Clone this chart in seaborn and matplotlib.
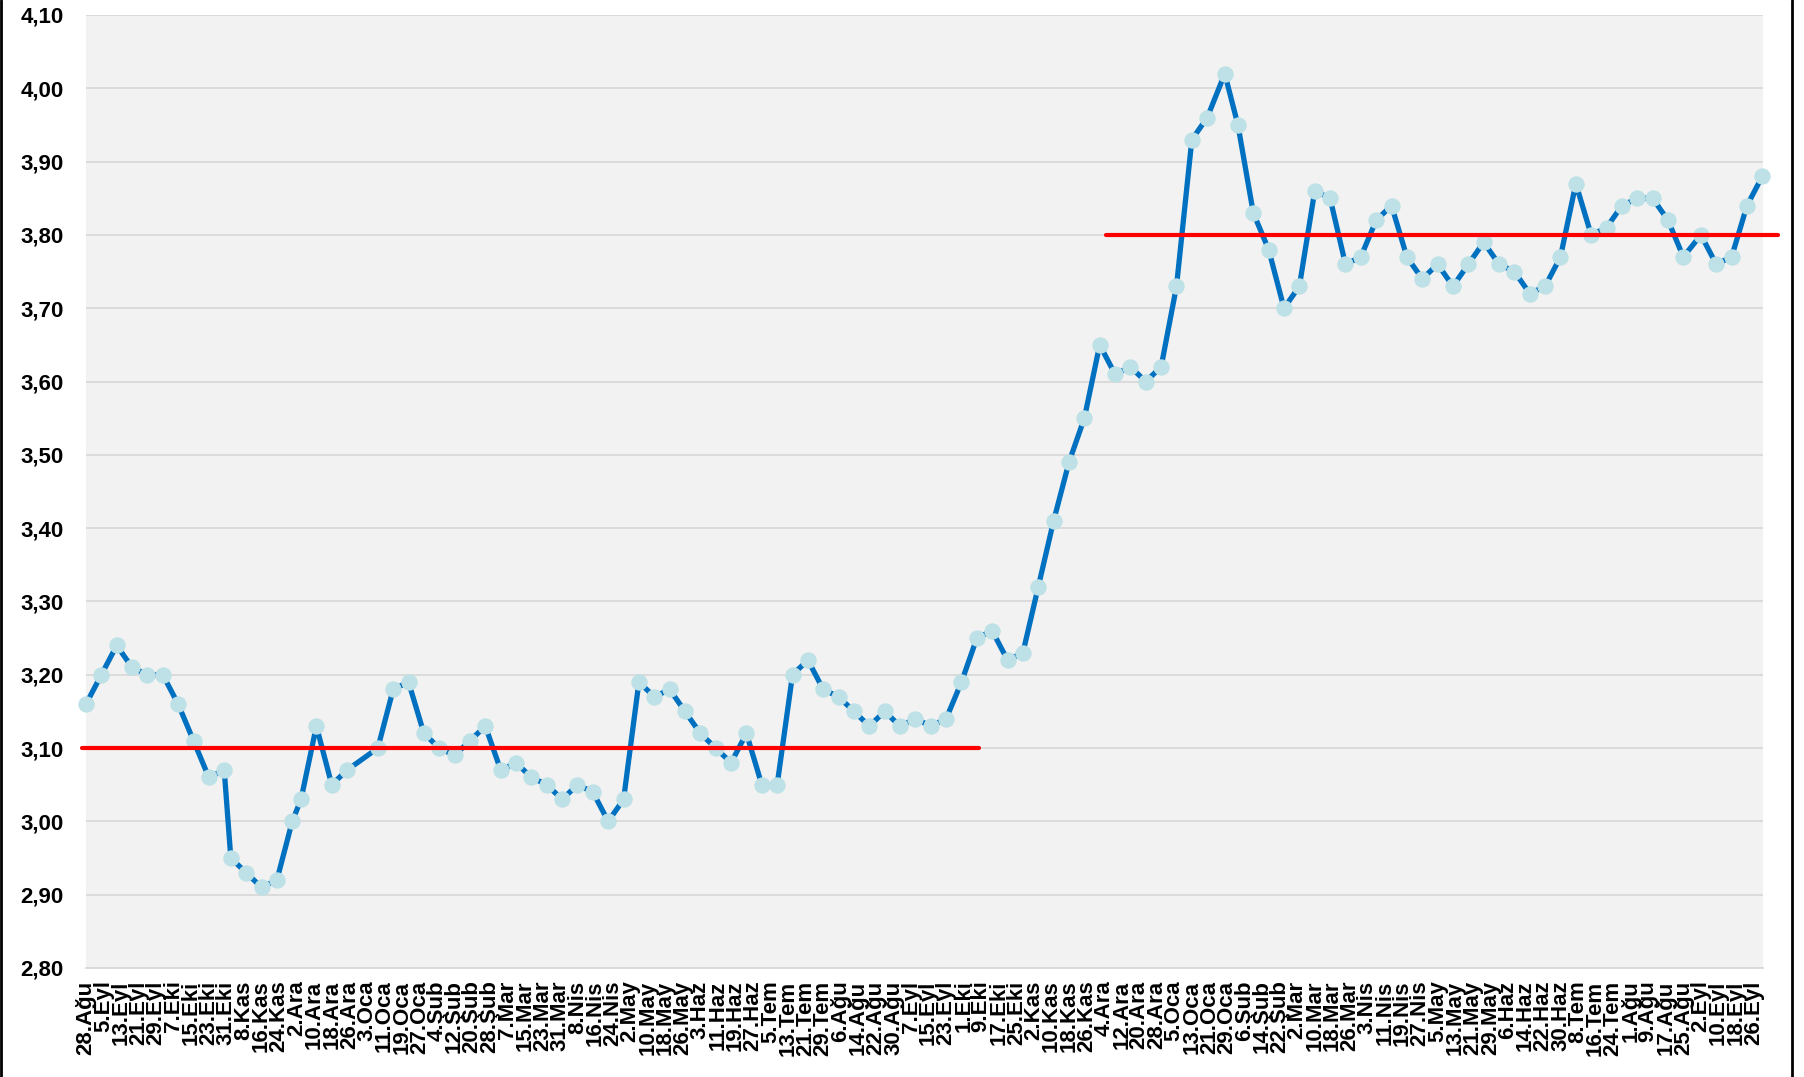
import numpy as np
import pandas as pd
import matplotlib
matplotlib.use("Agg")
import matplotlib.pyplot as plt
import matplotlib.ticker as mticker
from matplotlib.lines import Line2D
import seaborn as sns

# === 1. Data ===
start_date = pd.Timestamp("2015-08-28")

# days after start date for each observation
day_offsets = [
    0, 7, 14, 21, 28, 35, 42, 49, 56, 63, 66, 73, 80, 87, 94, 98, 105, 112, 119,
    133, 140, 147, 154, 161, 168, 175, 182, 189, 196, 203, 210, 217, 224, 231,
    238, 245, 252, 259, 266, 273, 280, 287, 294, 301, 308, 315, 322, 329, 336,
    343, 350, 357, 364, 371, 378, 385, 392, 399, 406, 413, 420, 427, 434, 441,
    448, 455, 462, 469, 476, 483, 490, 497, 504, 511, 519, 525, 532, 539, 546,
    553, 560, 567, 574, 581, 588, 595, 602, 609, 616, 623, 630, 637, 644, 651,
    658, 665, 672, 679, 686, 693, 700, 707, 714, 721, 728, 736, 743, 750, 757,
    764,
]

values = [
    3.16, 3.20, 3.24, 3.21, 3.20, 3.20, 3.16, 3.11, 3.06, 3.07, 2.95, 2.93, 2.91,
    2.92, 3.00, 3.03, 3.13, 3.05, 3.07, 3.10, 3.18, 3.19, 3.12, 3.10, 3.09, 3.11,
    3.13, 3.07, 3.08, 3.06, 3.05, 3.03, 3.05, 3.04, 3.00, 3.03, 3.19, 3.17, 3.18,
    3.15, 3.12, 3.10, 3.08, 3.12, 3.05, 3.05, 3.20, 3.22, 3.18, 3.17, 3.15, 3.13,
    3.15, 3.13, 3.14, 3.13, 3.14, 3.19, 3.25, 3.26, 3.22, 3.23, 3.32, 3.41, 3.49,
    3.55, 3.65, 3.61, 3.62, 3.60, 3.62, 3.73, 3.93, 3.96, 4.02, 3.95, 3.83, 3.78,
    3.70, 3.73, 3.86, 3.85, 3.76, 3.77, 3.82, 3.84, 3.77, 3.74, 3.76, 3.73, 3.76,
    3.79, 3.76, 3.75, 3.72, 3.73, 3.77, 3.87, 3.80, 3.81, 3.84, 3.85, 3.85, 3.82,
    3.77, 3.80, 3.76, 3.77, 3.84, 3.88,
]

tick_labels = [
    "28.Ağu", "5.Eyl", "13.Eyl", "21.Eyl", "29.Eyl", "7.Eki", "15.Eki", "23.Eki",
    "31.Eki", "8.Kas", "16.Kas", "24.Kas", "2.Ara", "10.Ara", "18.Ara", "26.Ara",
    "3.Oca", "11.Oca", "19.Oca", "27.Oca", "4.Şub", "12.Şub", "20.Şub", "28.Şub",
    "7.Mar", "15.Mar", "23.Mar", "31.Mar", "8.Nis", "16.Nis", "24.Nis", "2.May",
    "10.May", "18.May", "26.May", "3.Haz", "11.Haz", "19.Haz", "27.Haz", "5.Tem",
    "13.Tem", "21.Tem", "29.Tem", "6.Ağu", "14.Ağu", "22.Ağu", "30.Ağu", "7.Eyl",
    "15.Eyl", "23.Eyl", "1.Eki", "9.Eki", "17.Eki", "25.Eki", "2.Kas", "10.Kas",
    "18.Kas", "26.Kas", "4.Ara", "12.Ara", "20.Ara", "28.Ara", "5.Oca", "13.Oca",
    "21.Oca", "29.Oca", "6.Şub", "14.Şub", "22.Şub", "2.Mar", "10.Mar", "18.Mar",
    "26.Mar", "3.Nis", "11.Nis", "19.Nis", "27.Nis", "5.May", "13.May", "21.May",
    "29.May", "6.Haz", "14.Haz", "22.Haz", "30.Haz", "8.Tem", "16.Tem", "24.Tem",
    "1.Ağu", "9.Ağu", "17.Ağu", "25.Ağu", "2.Eyl", "10.Eyl", "18.Eyl", "26.Eyl",
]

# average levels (red lines) and the day ranges they cover
avg_levels = [3.10, 3.80]
avg_spans = [(-2, 407), (465, 771)]

dates = start_date + pd.to_timedelta(day_offsets, unit="D")
tick_dates = pd.date_range(start_date, periods=len(tick_labels), freq="8D")
df = pd.DataFrame({"date": dates, "value": values})

# === 2. Style ===
sns.set_style("whitegrid")
plt.rcParams["font.family"] = ["Liberation Sans", "DejaVu Sans"]
plt.rcParams["font.weight"] = "bold"
plt.rcParams["text.color"] = "black"
plt.rcParams["xtick.labelcolor"] = "black"
plt.rcParams["ytick.labelcolor"] = "black"

fig = plt.figure(figsize=(18.04, 10.77), dpi=100)
ax = fig.add_axes([86 / 1804, 1 - 968 / 1077, (1763 - 86) / 1804, (968 - 15) / 1077])
ax.set_facecolor("#F2F2F2")

# === 3. Plot ===
sns.lineplot(data=df, x="date", y="value", ax=ax, color="#0070C0", lw=3.8,
             marker="o", markersize=11, markerfacecolor="#BDE1E6",
             markeredgecolor="#BDE1E6", clip_on=False, zorder=3)

for level, (d0, d1) in zip(avg_levels, avg_spans):
    ax.plot([start_date + pd.Timedelta(days=d0), start_date + pd.Timedelta(days=d1)],
            [level, level], color="#FF0000", lw=3, clip_on=False, zorder=4)

# === 4. Axes ===
ax.set_xlim(start_date, start_date + pd.Timedelta(days=764.3))
ax.set_ylim(2.80, 4.10)
ax.yaxis.set_major_locator(mticker.MultipleLocator(0.10))
ax.yaxis.set_major_formatter(mticker.FuncFormatter(lambda v, p: f"{v:.2f}".replace(".", ",")))
ax.set_xticks(tick_dates)
ax.set_xticklabels(tick_labels, rotation=90, fontsize=16, fontweight="bold", color="black")
for lab in ax.get_yticklabels():
    lab.set_fontsize(16)
    lab.set_fontweight("bold")
    lab.set_color("black")

ax.grid(axis="y", color="#D9D9D9", lw=1.3)
ax.grid(axis="x", visible=False)
ax.tick_params(axis="y", length=0, pad=16, labelsize=16, labelcolor="black")
ax.tick_params(axis="x", length=5, width=1, color="#BFBFBF", pad=4, labelsize=16,
               labelcolor="black")
for side in ["top", "left", "right"]:
    ax.spines[side].set_visible(False)
ax.spines["bottom"].set_color("#D9D9D9")
ax.spines["bottom"].set_linewidth(1.3)
ax.set_xlabel("")
ax.set_ylabel("")

# frame lines at the picture edges
fig.add_artist(Line2D([1 / 1804, 1 / 1804], [0, 1], transform=fig.transFigure, color="black", lw=2))
fig.add_artist(Line2D([1792 / 1804, 1792 / 1804], [0, 1], transform=fig.transFigure, color="black", lw=2))

fig.savefig("out.png", dpi=100)
